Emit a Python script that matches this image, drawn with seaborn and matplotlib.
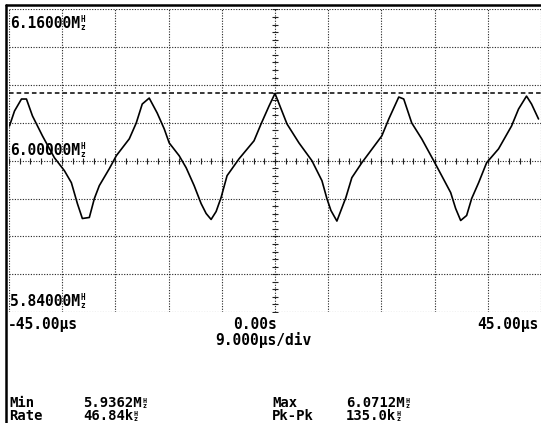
import numpy as np
import matplotlib
matplotlib.use("Agg")
import matplotlib.pyplot as plt
import seaborn as sns

# trace: time in microseconds, frequency in MHz
time_us = [-44.92, -44.07, -42.89, -42.05, -41.03, -39.34, -37.32, -35.63, -34.45, -33.43,
           -32.59, -31.41, -30.56, -29.72, -28.03, -26.85, -24.65, -23.47, -22.46, -21.28,
           -19.93, -18.74, -17.90, -16.21, -15.03, -13.68, -12.50, -11.65, -10.81, -9.96,
           -9.12, -8.11, -6.08, -3.55, -2.36, -1.01, 0.00, 2.03, 4.05, 6.25,
           7.94, 8.78, 9.46, 10.47, 11.99, 13.00, 14.69, 18.07, 19.25, 20.94,
           21.78, 23.13, 24.82, 26.85, 28.20, 29.72, 30.56, 31.41, 32.42, 33.27,
           34.45, 35.80, 37.82, 40.02, 41.20, 42.55, 43.40, 44.58]
freq_mhz = [6.0368, 6.0526, 6.0653, 6.0653, 6.0474, 6.0263, 6.0032, 5.9895, 5.9768, 5.9547,
            5.9389, 5.9400, 5.9600, 5.9737, 5.9916, 6.0053, 6.0232, 6.0400, 6.0600, 6.0663,
            6.0505, 6.0337, 6.0189, 6.0053, 5.9926, 5.9737, 5.9547, 5.9442, 5.9379, 5.9463,
            5.9611, 5.9842, 6.0021, 6.0211, 6.0389, 6.0579, 6.0712, 6.0389, 6.0189, 6.0000,
            5.9789, 5.9600, 5.9474, 5.9362, 5.9611, 5.9821, 5.9979, 6.0263, 6.0442, 6.0674,
            6.0653, 6.0400, 6.0232, 6.0000, 5.9842, 5.9663, 5.9495, 5.9368, 5.9421, 5.9600,
            5.9768, 5.9979, 6.0126, 6.0368, 6.0547, 6.0684, 6.0600, 6.0442]

y_labels = ["6.16000M", "6.00000M", "5.84000M"]
x_labels = ["-45.00\u00b5s", "0.00s", "45.00\u00b5s"]
timebase = "9.000\u00b5s/div"
stat_names_left = ["Min", "Rate"]
stat_values_left = ["5.9362M", "46.84k"]
stat_names_right = ["Max", "Pk-Pk"]
stat_values_right = ["6.0712M", "135.0k"]
max_cursor = 6.0712

sns.set_style("white")
plt.rcParams["font.family"] = ["DejaVu Sans Mono", "DejaVu Sans"]

W, H = 541, 423
fig = plt.figure(figsize=(W / 100, H / 100), dpi=100)
ax = fig.add_axes([9 / W, (H - 312) / H, 532 / W, 302.5 / H])

sns.lineplot(x=time_us, y=freq_mhz, ax=ax, color="black", linewidth=1.2, zorder=4)

ax.set_xlim(-45, 45)
ax.set_ylim(5.84, 6.16)
ax.set_xticks(np.arange(-45, 45.1, 9))
ax.set_yticks(np.arange(5.84, 6.161, 0.04))
ax.tick_params(length=0, labelbottom=False, labelleft=False)
ax.grid(True, color="#222222", linewidth=0.8, linestyle=(0, (1, 1.4)))
for s in ax.spines.values():
    s.set_visible(False)
ax.set_xlabel("")
ax.set_ylabel("")

# small division marks on the centre cross
ax.plot(np.arange(-45, 45.1, 1.8), np.full(51, 6.0), ls="none", marker="|",
        ms=4, mew=0.8, color="#222222", zorder=3)
ax.plot(np.zeros(41), np.arange(5.84, 6.161, 0.008), ls="none", marker="_",
        ms=4, mew=0.8, color="#222222", zorder=3)

# max cursor
ax.axhline(max_cursor, color="black", linewidth=1.1, linestyle=(0, (3, 2)), zorder=2)

fs = 10.5
char_w = 0.602 * fs * 100 / 72


def hz_mark(xp, yp, size=5.5, spacing=0.72):
    fig.text((xp + 0.5) / W, 1 - (yp + 0.5) / H, "H\nz", fontsize=size,
             fontweight="bold", linespacing=spacing, va="center", ha="left",
             color="black")


def label(xp, yp, s, ha="left", hz=False, size=fs, spacing=1.2):
    fig.text(xp / W, 1 - yp / H, s, fontsize=size, fontweight="bold",
             va="center", ha=ha, color="black", linespacing=spacing)
    if hz:
        hz_mark(xp + len(s) * size / fs * char_w, yp)


for lab, yp in zip(y_labels, [23, 150, 301]):
    label(10, yp, lab, hz=True)

label(8, 324, x_labels[0])
label(277, 324, x_labels[1], ha="right")
label(539, 324, x_labels[2], ha="right")
label(263, 340, timebase, ha="center")

# measurement block, two rows per column
row_y = [403, 416]
sfs = 10
for names, vals, x0 in [(stat_names_left, stat_values_left, 9),
                        (stat_names_right, stat_values_right, 272)]:
    label(x0, sum(row_y) / 2, "\n".join(names), size=sfs, spacing=0.95)
    label(x0 + 74, sum(row_y) / 2, "\n".join(vals), size=sfs, spacing=0.95)
    for v, yp in zip(vals, row_y):
        hz_mark(x0 + 74 + len(v) * 0.602 * sfs * 100 / 72, yp, size=4.8, spacing=0.62)

# instrument frame
fig.add_artist(plt.Line2D([6 / W, 6 / W], [0, 1 - 5 / H], color="black", lw=1.8))
fig.add_artist(plt.Line2D([6 / W, 1], [1 - 5 / H, 1 - 5 / H], color="black", lw=1.8))

fig.savefig("out.png", dpi=100, facecolor="white")
